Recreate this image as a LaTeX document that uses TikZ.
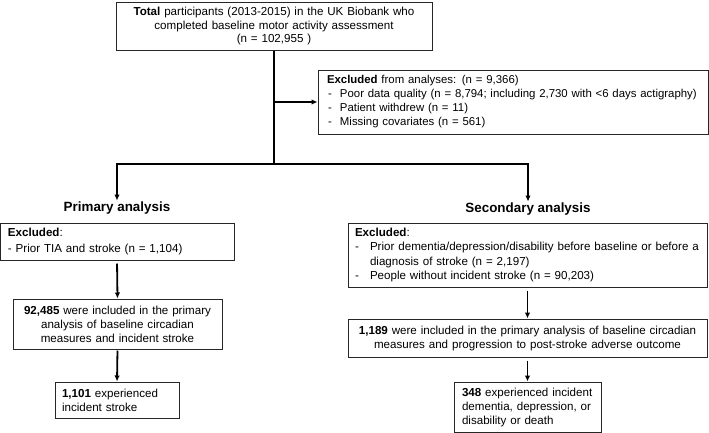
\documentclass[tikz,border=0pt]{standalone}
\usepackage{fontspec}
\setmainfont{Liberation Sans}
\usetikzlibrary{arrows.meta}
\begin{document}
\begin{tikzpicture}[x=1pt,y=-1pt,
  every node/.style={font=\fontsize{11.6}{14}\selectfont},
  box/.style={draw=black!85, line width=1pt, inner ysep=0pt, anchor=center},
  title/.style={font=\fontsize{13.4}{16}\selectfont\bfseries, inner sep=1pt},
  conn/.style={line width=1.8pt, black},
  arr/.style={conn, -{Latex[length=6pt,width=5.5pt]}}]
\useasboundingbox (0,0) rectangle (709,432);

\node[box, inner xsep=8pt, text width=300pt, minimum height=48pt, align=center,
  font=\fontsize{11.6}{13.5}\selectfont] (top) at (274,26)
  {\textbf{Total} participants (2013-2015) in the UK Biobank who\\completed baseline motor activity assessment\\(n = 102,955 )};

\node[box, inner xsep=4pt, text width=382pt, minimum height=64pt, align=left,
  font=\fontsize{11.4}{14}\selectfont] (excl) at (513,102)
  {\hyphenpenalty=10000\hspace*{5pt}\textbf{Excluded} from analyses: (n = 9,366)\\
   \hspace*{5pt}\makebox[13pt][l]{\hspace*{1pt}-}Poor data quality (n = 8,794; including 2,730 with <6 days actigraphy)\\
   \hspace*{5pt}\makebox[13pt][l]{\hspace*{1pt}-}Patient withdrew (n = 11)\\
   \hspace*{5pt}\makebox[13pt][l]{\hspace*{1pt}-}Missing covariates (n = 561)};

\coordinate (jc) at (274,164);
\coordinate (jl) at (117,164);
\coordinate (jr) at (528,164);

\node[title] (ptitle) at (117,208) {Primary analysis};
\node[title] (stitle) at (528,209) {Secondary analysis};

\node[box, inner xsep=8pt, text width=218pt, minimum height=37pt, align=left,
  font=\fontsize{11.6}{16.5}\selectfont] (pexcl) at (117,241.5)
  {\textbf{Excluded}:\\- Prior TIA and stroke (n = 1,104)};

\node[box, inner xsep=6pt, text width=197pt, minimum height=50pt, align=center] (p92) at (117.5,324)
  {\textbf{92,485} were included in the primary\\analysis of baseline circadian\\measures and incident stroke};

\node[box, inner xsep=7pt, text width=110pt, minimum height=36pt, align=left] (p1101) at (117,400)
  {\textbf{1,101} experienced\\incident stroke};

\node[box, inner xsep=7pt, text width=345pt, minimum height=64pt, align=left,
  font=\fontsize{11.6}{14.5}\selectfont] (sexcl) at (527.5,255)
  {\hyphenpenalty=10000\textbf{Excluded}:\\
   \makebox[15pt][l]{-}Prior dementia/depression/disability before baseline or before a\\
   \hspace*{15pt}diagnosis of stroke (n = 2,197)\\
   \makebox[15pt][l]{-}People without incident stroke (n = 90,203)};

\node[box, inner xsep=7pt, text width=345pt, minimum height=38pt, align=center] (s1189) at (527.5,338)
  {\textbf{1,189} were included in the primary analysis of baseline circadian\\measures and progression to post-stroke adverse outcome};

\node[box, inner xsep=8pt, text width=131pt, minimum height=50pt, align=left] (s348) at (527.5,407)
  {\textbf{348} experienced incident\\dementia, depression, or\\disability or death};

\draw[conn] (top.south) -- (jc);
\draw[conn] ([xshift=-0.9pt]jl) -- ([xshift=0.9pt]jr);
\draw[arr] (top.south |- excl.west) -- (excl.west);
\draw[arr] ([yshift=0.9pt]jl) -- (ptitle.north);
\draw[arr] ([yshift=0.9pt]jr) -- (stitle.north);
\draw[arr, shorten <=3pt] (pexcl.south) -- (p92.north);
\draw[arr, shorten <=1pt] (p92.south) -- (p1101.north);
\draw[arr, shorten <=3pt] (sexcl.south) -- (s1189.north);
\draw[arr, shorten <=3pt] (s1189.south) -- (s348.north);
\end{tikzpicture}
\end{document}
